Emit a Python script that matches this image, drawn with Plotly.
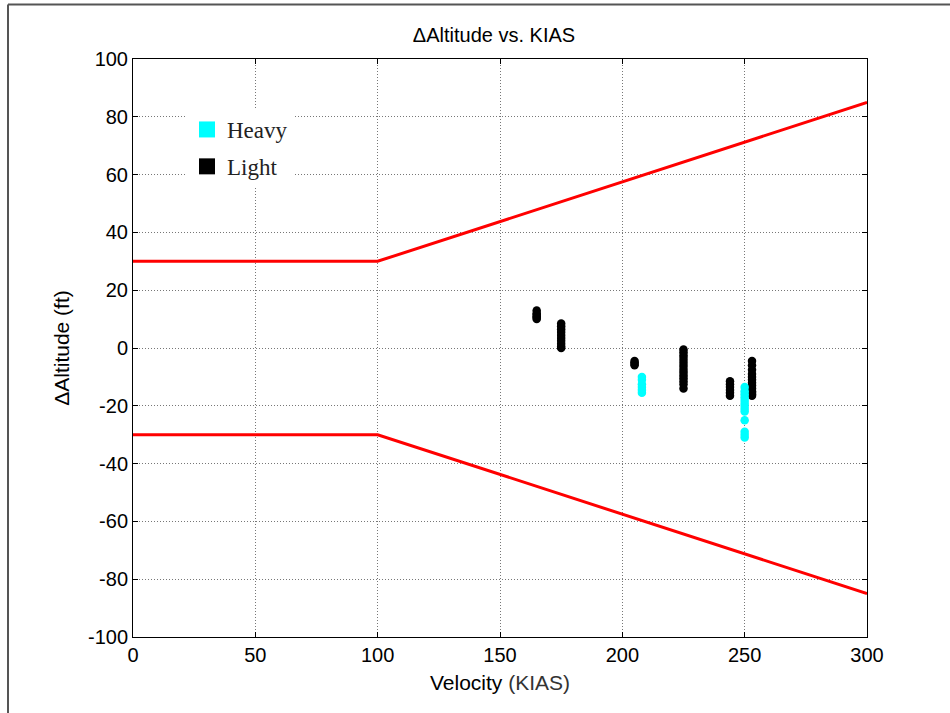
import plotly.graph_objects as go

# Limit lines
limit_x = [0, 100, 300]
upper_y = [30, 30, 85]
lower_y = [-30, -30, -85]

# Light aircraft samples (KIAS, delta altitude ft)
light_x = ([165] * 6 + [175] * 10 + [205] * 4 + [225] * 14 + [244] * 6 + [253] * 13)
light_y = ([13, 12, 11.5, 11, 10.5, 10] +
           [8.5, 7.5, 6.5, 5.5, 4.5, 3.5, 2.5, 1.5, 0.5, 0] +
           [-4.5, -5, -5.5, -6] +
           [-0.5, -1.5, -2.5, -3.5, -4.5, -5.5, -6.5, -7.5, -8.5, -9.5, -10.5, -11.5, -12.5, -14] +
           [-11.5, -12.5, -13.5, -14.5, -15.5, -16.5] +
           [-4.5, -6, -7.5, -9, -10, -11, -12, -13, -14, -15, -15.5, -16, -16.5])

# Heavy aircraft samples
heavy_x = [208] * 6 + [250] * 13
heavy_y = ([-10, -11, -12.5, -13.5, -14.5, -15.5] +
           [-13.5, -15, -16, -17, -18, -19, -20, -21, -22, -25, -29, -30, -31])

# Tick labels
x_ticks = [0, 50, 100, 150, 200, 250, 300]
x_ticklabels = ["0", "50", "100", "150", "200", "250", "300"]
y_ticks = [-100, -80, -60, -40, -20, 0, 20, 40, 60, 80, 100]
y_ticklabels = ["-100", "-80", "-60", "-40", "-20", "0", "20", "40", "60", "80", "100"]

fig = go.Figure()
fig.add_trace(go.Scatter(x=limit_x, y=upper_y, mode="lines",
                         line=dict(color="#ff0000", width=3), showlegend=False))
fig.add_trace(go.Scatter(x=limit_x, y=lower_y, mode="lines",
                         line=dict(color="#ff0000", width=3), showlegend=False))
fig.add_trace(go.Scatter(x=light_x, y=light_y, mode="markers",
                         marker=dict(color="black", size=8.5), showlegend=False))
fig.add_trace(go.Scatter(x=heavy_x, y=heavy_y, mode="markers",
                         marker=dict(color="#00ffff", size=8.5), showlegend=False))
# legend entries
fig.add_trace(go.Scatter(x=[None], y=[None], mode="markers", name="Heavy", legendgroup="h",
                         marker=dict(color="#00ffff", size=16, symbol="square")))
fig.add_trace(go.Scatter(x=[None], y=[None], mode="markers", name="Light", legendgroup="l",
                         marker=dict(color="black", size=16, symbol="square")))

L, R, T, B = 133, 867, 59, 637
W, H = 950, 713
def px(p):
    return (p - L) / (R - L)
def py(p):
    return (B - p) / (B - T)

SANS = "Liberation Sans, Arial"
axis_common = dict(showline=True, linecolor="black", linewidth=1, mirror="ticks",
                   ticks="inside", ticklen=5, tickcolor="black",
                   showgrid=True, gridcolor="#777777", griddash="1px,2px", gridwidth=1,
                   zeroline=False, tickfont=dict(family=SANS, size=20, color="black"))

fig.update_layout(
    width=W, height=H,
    margin=dict(l=L, r=W - R, t=T, b=H - B),
    paper_bgcolor="white", plot_bgcolor="white",
    title=dict(text="\u0394Altitude vs. KIAS", x=494 / W, xref="container", xanchor="center",
               y=1 - 35 / H, yref="container", yanchor="middle",
               font=dict(family=SANS, size=20, color="black")),
    xaxis=dict(range=[0, 300], tickvals=x_ticks, ticktext=x_ticklabels,
               title=dict(text="Velocity <span style='color:#333'>(KIAS)</span>", standoff=10,
                          font=dict(family=SANS, size=21, color="black")),
               **axis_common),
    yaxis=dict(range=[-100, 100], tickvals=y_ticks, ticktext=y_ticklabels,
               title=dict(text="\u0394Altitude (ft)", standoff=12,
                          font=dict(family=SANS, size=21, color="black")),
               **axis_common),
    legend=dict(x=px(187), y=py(108), xanchor="left", yanchor="top",
                bgcolor="white", borderwidth=0, tracegroupgap=4,
                font=dict(family="Liberation Serif, Times New Roman", size=23, color="#222"),
                itemwidth=30),
    showlegend=True,
)

# outer figure frame (left and top edges)
fig.add_shape(type="line", xref="paper", yref="paper", x0=px(8), x1=px(950), y0=py(4.5), y1=py(4.5),
              line=dict(color="#555", width=2))
fig.add_shape(type="line", xref="paper", yref="paper", x0=px(8), x1=px(8), y0=py(4.5), y1=py(713),
              line=dict(color="#555", width=2))

fig.write_html("out.html")
